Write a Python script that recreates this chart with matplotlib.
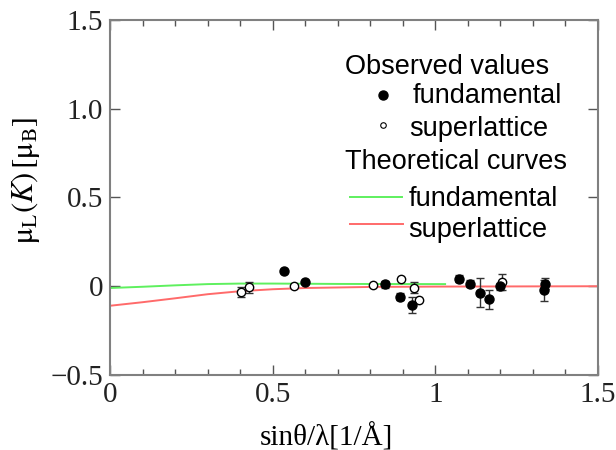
import matplotlib
matplotlib.use("Agg")
import matplotlib.pyplot as plt
from matplotlib.ticker import FixedLocator, FixedFormatter, MultipleLocator

plt.rcParams['mathtext.fontset'] = 'stix'

# observed values
fund_x = [0.536, 0.600, 0.846, 0.890, 0.928, 1.072, 1.106, 1.138, 1.164, 1.198, 1.338, 1.335]
fund_y = [0.085, 0.024, 0.011, -0.060, -0.107, 0.043, 0.015, -0.036, -0.073, 0.000, 0.015, -0.023]
fund_err = [0.0, 0.0, 0.02, 0.02, 0.045, 0.02, 0.02, 0.08, 0.053, 0.02, 0.03, 0.06]

super_x = [0.402, 0.426, 0.566, 0.808, 0.894, 0.935, 0.949, 1.205]
super_y = [-0.032, -0.007, 0.0, 0.006, 0.043, -0.008, -0.075, 0.024]
super_err = [0.03, 0.03, 0.0, 0.0, 0.0, 0.03, 0.0, 0.044]

# theoretical curves
green_x = [0, 0.1, 0.2, 0.3, 0.4, 0.5, 0.7, 1.03]
green_y = [-0.01, -0.003, 0.005, 0.012, 0.015, 0.015, 0.013, 0.012]
red_x = [0, 0.1, 0.2, 0.3, 0.4, 0.5, 0.6, 0.8, 1.0, 1.5]
red_y = [-0.11, -0.09, -0.068, -0.045, -0.028, -0.017, -0.01, -0.004, -0.002, 0.0]

xticks = [0, 0.5, 1.0, 1.5]
xticklabels = ["0", "0.5", "1", "1.5"]
yticks = [-0.5, 0, 0.5, 1.0, 1.5]
yticklabels = ["\u22120.5", "0", "0.5", "1.0", "1.5"]

fig = plt.figure(figsize=(6.16, 4.5), dpi=100)
ax = fig.add_axes([0.1786, 0.1667, 0.7922, 0.7889])

ax.plot(green_x, green_y, color="#5ef05e", lw=1.4)
ax.plot(red_x, red_y, color="#ff6a6a", lw=1.4)

ax.errorbar(super_x, super_y, yerr=super_err, fmt="o", ms=6, mfc="white", mec="black",
            mew=1.0, ecolor="#333333", elinewidth=1.0, capsize=3, capthick=1.0)
ax.errorbar(fund_x, fund_y, yerr=fund_err, fmt="o", ms=6.5, mfc="black", mec="black",
            ecolor="#333333", elinewidth=1.0, capsize=3, capthick=1.0)

ax.set_xlim(0, 1.5)
ax.set_ylim(-0.5, 1.5)
ax.xaxis.set_major_locator(FixedLocator(xticks))
ax.xaxis.set_major_formatter(FixedFormatter(xticklabels))
ax.xaxis.set_minor_locator(MultipleLocator(0.1))
ax.yaxis.set_major_locator(FixedLocator(yticks))
ax.yaxis.set_major_formatter(FixedFormatter(yticklabels))

for s in ax.spines.values():
    s.set_color("#808080")
    s.set_linewidth(1.5)
ax.tick_params(which="both", direction="in", top=True, right=True, color="#555555")
ax.tick_params(which="major", length=7, width=1.0, labelsize=21, pad=5)
ax.tick_params(which="minor", length=4, width=1.0)
for lab in ax.get_xticklabels() + ax.get_yticklabels():
    lab.set_fontfamily("Liberation Serif")
    lab.set_color("#222222")

ax.set_xlabel("sin\u03b8/\u03bb[1/\u00c5]", fontsize=21, family="Liberation Serif")
ax.xaxis.set_label_coords(0.443, -0.135)
ax.set_ylabel(r"$\mathrm{\mu_L}(K)\,[\mathrm{\mu_B}]$", fontsize=22)
ax.yaxis.set_label_coords(-0.139, 0.549)

# legend block
lg = dict(transform=ax.transAxes, fontsize=19.5, family="Liberation Sans", va="baseline")
ax.text(0.482, 0.848, "Observed values", **lg)
ax.plot([0.559], [0.789], "o", ms=6.5, color="black", transform=ax.transAxes)
ax.text(0.620, 0.766, "fundamental", **lg)
ax.plot([0.559], [0.704], "o", ms=4, mfc="white", mec="black", mew=0.8, transform=ax.transAxes)
ax.text(0.614, 0.673, "superlattice", **lg)
ax.text(0.482, 0.580, "Theoretical curves", **lg)
ax.plot([0.492, 0.598], [0.501, 0.501], color="#5ef05e", lw=1.4, transform=ax.transAxes)
ax.text(0.612, 0.476, "fundamental", **lg)
ax.plot([0.492, 0.600], [0.425, 0.425], color="#ff6a6a", lw=1.4, transform=ax.transAxes)
ax.text(0.610, 0.389, "superlattice", **lg)

fig.savefig("out.png", dpi=100)
